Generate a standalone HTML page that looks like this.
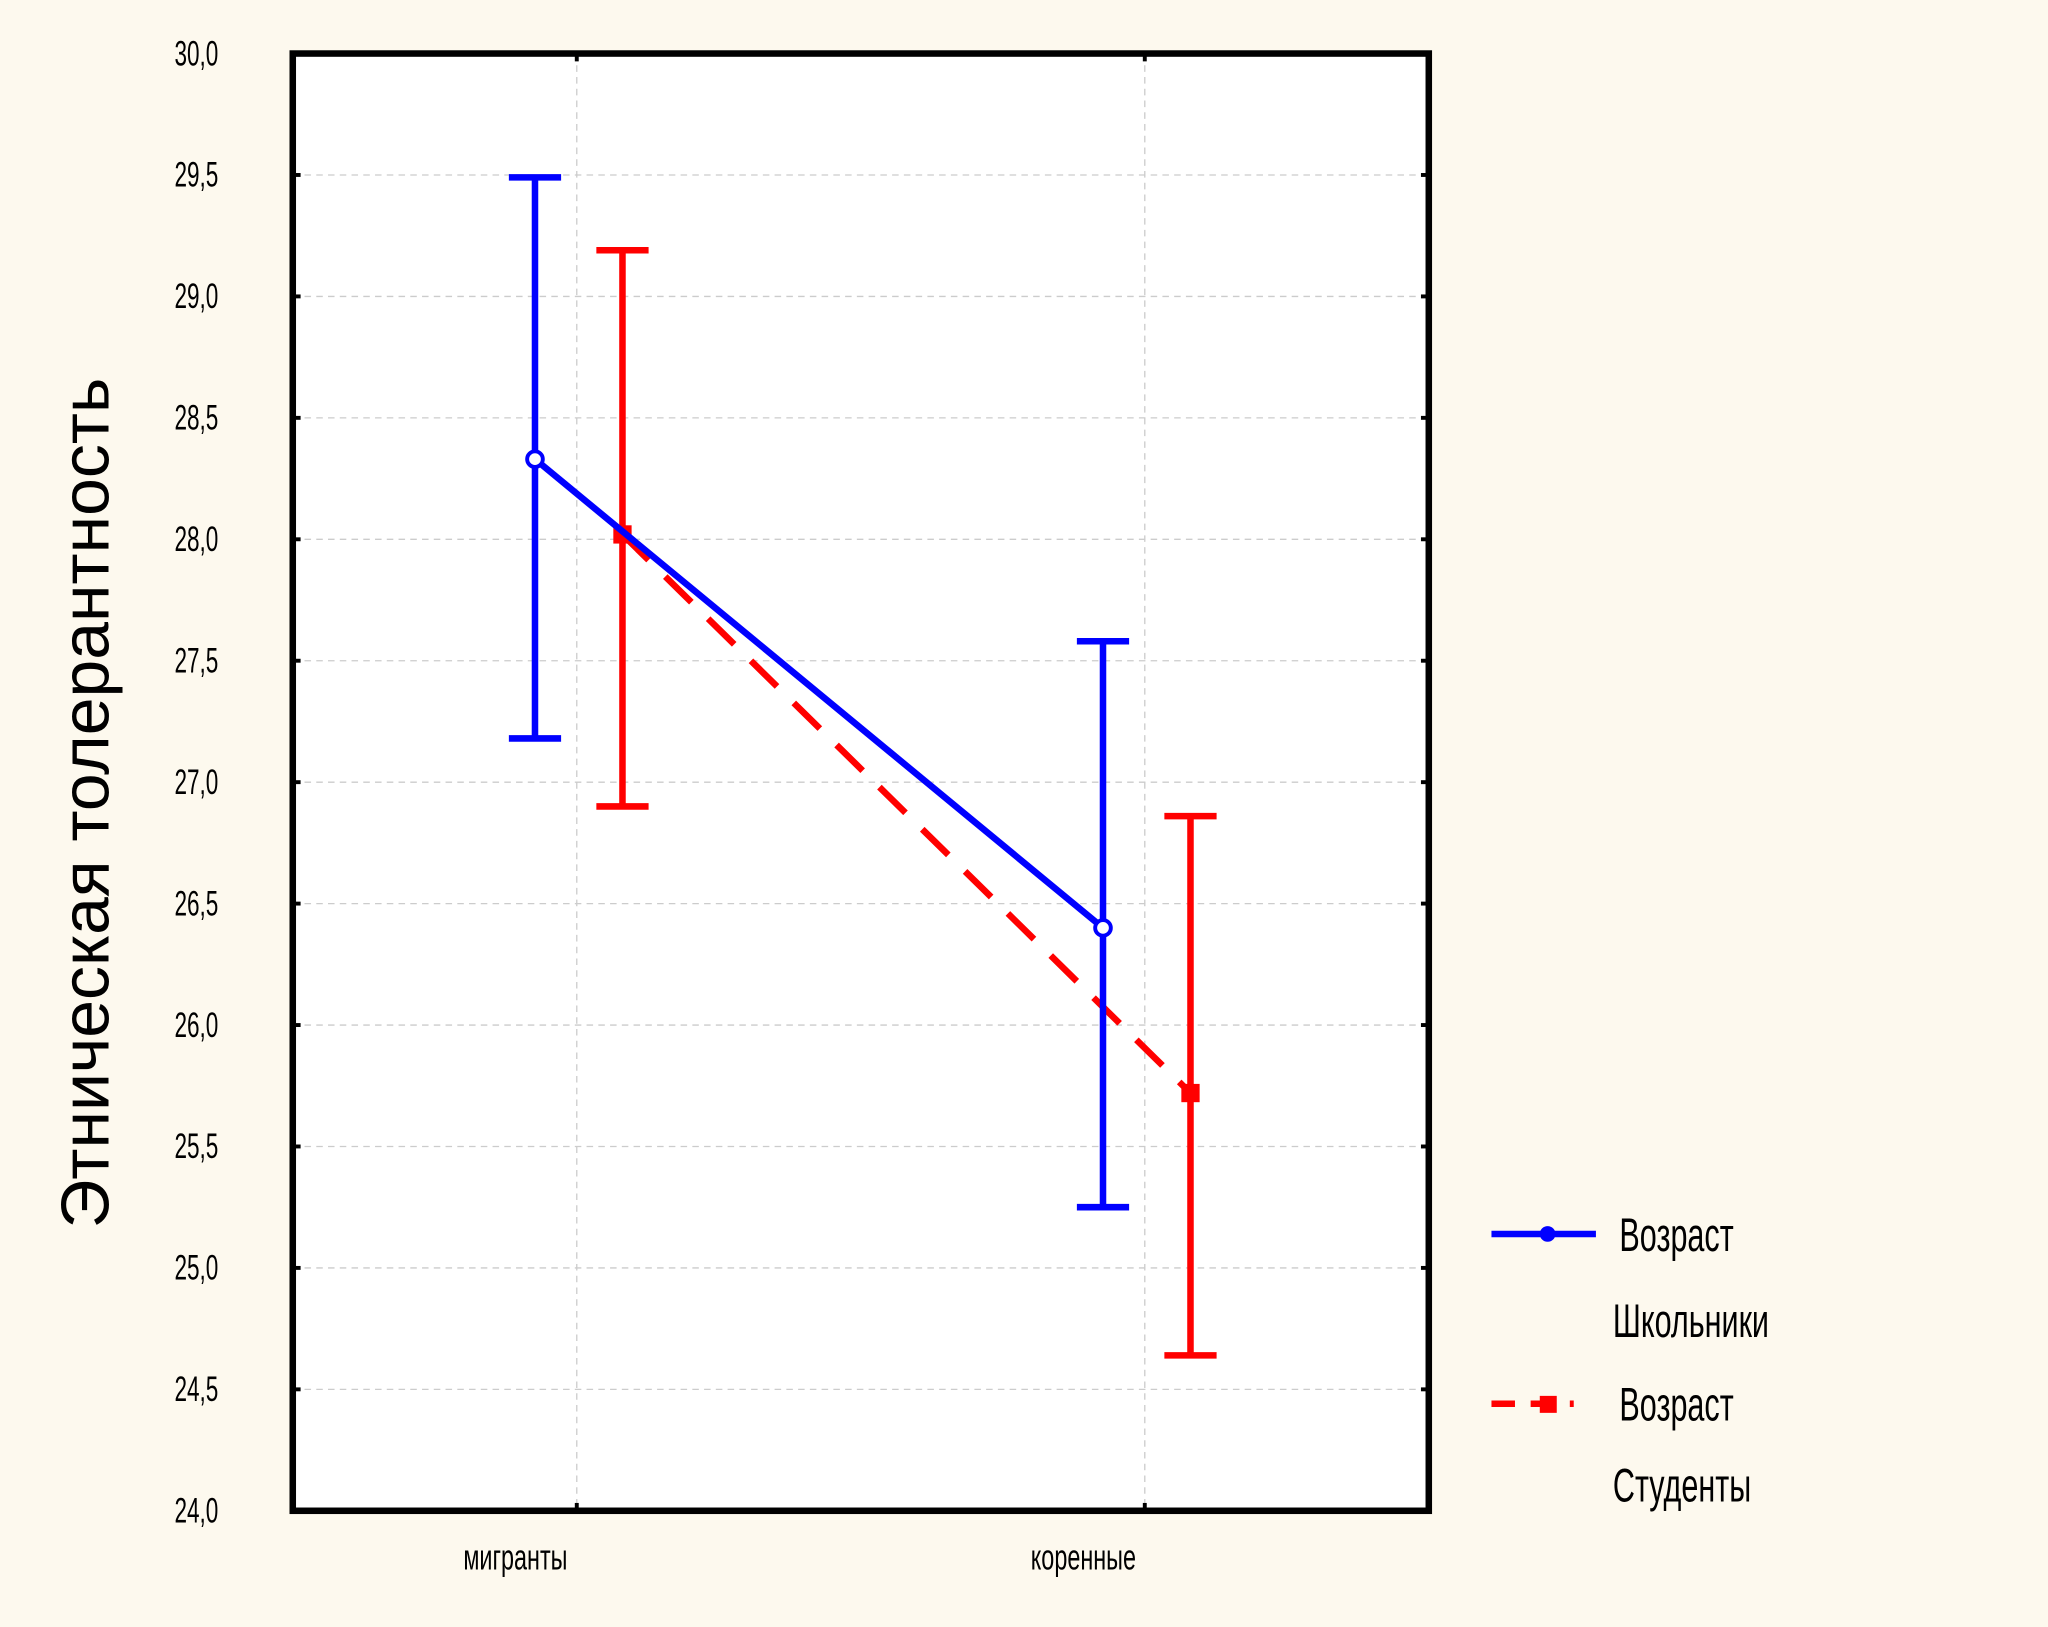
<!DOCTYPE html>
<html><head><meta charset="utf-8"><style>
html,body{margin:0;padding:0;background:#fdf9ee;}
svg{display:block;}
text{font-family:"Liberation Sans",sans-serif;}
</style></head><body>
<svg id="chart" width="2048" height="1627" viewBox="0 0 1568 1246" xmlns="http://www.w3.org/2000/svg">
<rect x="0" y="0" width="1568" height="1246" fill="#fdf9ee"/>
<rect x="224" y="41" width="870" height="1116" fill="#ffffff"/>
<g id="grid"></g>
<g id="marks"></g>
<rect x="224" y="41" width="870" height="1116" fill="none" stroke="#000" stroke-width="5"/>
<g id="axes"></g>
<text transform="translate(83,615) rotate(-90)" text-anchor="middle" font-size="52">Этническая толерантность</text>
<g>
  <g>
    <line x1="1142" y1="945" x2="1222" y2="945" stroke="#0000ff" stroke-width="5"/>
    <circle cx="1185" cy="945" r="6" fill="#0000ff"/>
    <text transform="translate(1240,958) scale(0.65,1)" font-size="36">Возраст</text>
    <text transform="translate(1235,1024) scale(0.65,1)" font-size="36">Школьники</text>
  </g>
  <g>
    <line x1="1142" y1="1075" x2="1205" y2="1075" stroke="#ff0000" stroke-width="5" stroke-dasharray="18,12"/>
    <rect x="1179" y="1069" width="13" height="13" fill="#ff0000"/>
    <text transform="translate(1240,1088) scale(0.65,1)" font-size="36">Возраст</text>
    <text transform="translate(1235,1150) scale(0.65,1)" font-size="36">Студенты</text>
  </g>
</g>
</svg>
<script>
const categories = ["мигранты", "коренные"];
const yTicks = [24.0,24.5,25.0,25.5,26.0,26.5,27.0,27.5,28.0,28.5,29.0,29.5,30.0];
const schoolMeans = [28.33, 26.40];
const schoolLow = [27.18, 25.25];
const schoolHigh = [29.49, 27.58];
const studentMeans = [28.02, 25.72];
const studentLow = [26.90, 24.64];
const studentHigh = [29.19, 26.86];

const NS = "http://www.w3.org/2000/svg";
const X0 = 224, X1 = 1094, Y0 = 1157, Y1 = 41;
function yScale(v){ return Y0 - (v - 24) / 6 * (Y0 - Y1); }
function xScale(i){ return X0 + (X1 - X0) * (0.25 + 0.5 * i); }
function mk(tag, attrs, parent){ const e = document.createElementNS(NS, tag); for (const k in attrs) e.setAttribute(k, attrs[k]); parent.appendChild(e); return e; }
const grid = document.getElementById('grid'), axes = document.getElementById('axes'), marks = document.getElementById('marks');

yTicks.forEach(t => {
  const y = yScale(t);
  if (t > 24 && t < 30) {
    const g = mk('line', {x1:X0, x2:X1, y1:y, y2:y, stroke:'#cccccc', 'stroke-width':1, 'stroke-dasharray':'5,4'}, grid);
    
    
  }
  const tl = mk('line', {x1:X0, x2:X0+6, y1:y, y2:y, stroke:'#000', 'stroke-width':3}, axes);
  
  
  const tr = mk('line', {x1:X1-6, x2:X1, y1:y, y2:y, stroke:'#000', 'stroke-width':3}, axes);
  
  
  const lb = mk('text', {transform:`translate(167,${y+9}) scale(0.64,1)`, 'text-anchor':'end', 'font-size':27}, axes);
  lb.textContent = t.toFixed(1).replace('.', ',');
  
  
});
categories.forEach((c, i) => {
  const x = xScale(i);
  const g = mk('line', {x1:x, x2:x, y1:Y1, y2:Y0, stroke:'#cccccc', 'stroke-width':1, 'stroke-dasharray':'5,4'}, grid);
  
  
  const tb = mk('line', {x1:x, x2:x, y1:Y0-6, y2:Y0, stroke:'#000', 'stroke-width':3}, axes);
  
  
  const tt = mk('line', {x1:x, x2:x, y1:Y1, y2:Y1+6, stroke:'#000', 'stroke-width':3}, axes);
  
  
  const lb = mk('text', {transform:`translate(${x-47},${Y0+45}) scale(0.64,1)`, 'text-anchor':'middle', 'font-size':28}, axes);
  lb.textContent = c;
  
  
});

function drawSeries(means, lows, highs, off, color, dashed, square, name){
  const pts = means.map((m, i) => [xScale(i) + off, yScale(m)]);
  const line = mk('polyline', {points: pts.map(p => p.join(',')).join(' '), fill:'none', stroke:color, 'stroke-width':5}, marks);
  if (dashed) line.setAttribute('stroke-dasharray', '28,18');
  
  
  means.forEach((m, i) => {
    const x = xScale(i) + off;
    const eb = mk('path', {d:`M${x},${yScale(lows[i])}V${yScale(highs[i])}M${x-20},${yScale(lows[i])}H${x+20}M${x-20},${yScale(highs[i])}H${x+20}`, fill:'none', stroke:color, 'stroke-width':5}, marks);
    
    
    let pt;
    if (square) pt = mk('rect', {x:x-7, y:yScale(m)-7, width:14, height:14, fill:color}, marks);
    else pt = mk('circle', {cx:x, cy:yScale(m), r:6, fill:'#fff', stroke:color, 'stroke-width':3}, marks);
    
    
  });
}
drawSeries(studentMeans, studentLow, studentHigh, 35, '#ff0000', true, true, 'students');
drawSeries(schoolMeans, schoolLow, schoolHigh, -32, '#0000ff', false, false, 'schoolchildren');
</script>
</body></html>
